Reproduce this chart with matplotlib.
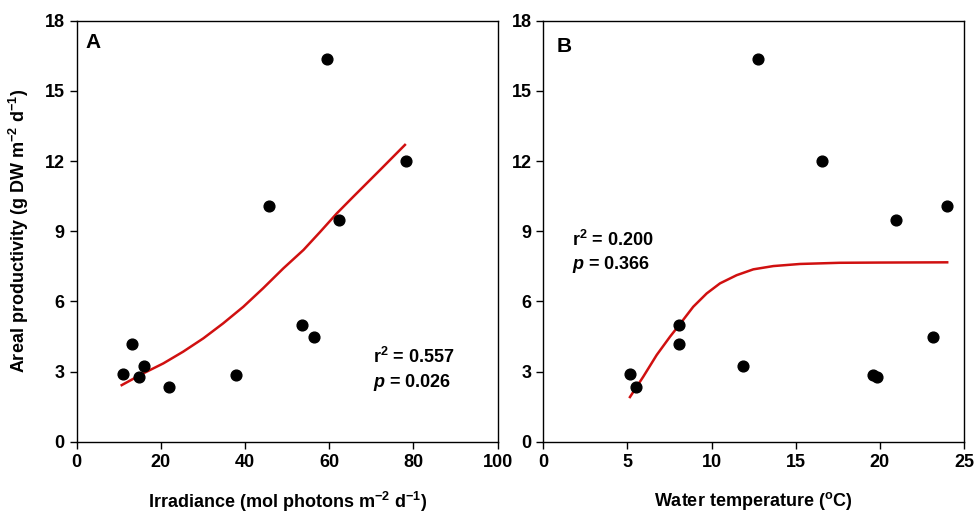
import numpy as np
import matplotlib
matplotlib.use('Agg')
import matplotlib.pyplot as plt

plt.rcParams['font.family'] = ['Liberation Sans', 'DejaVu Sans']
plt.rcParams['font.weight'] = 'bold'
plt.rcParams['axes.labelweight'] = 'bold'
plt.rcParams['mathtext.fontset'] = 'custom'
plt.rcParams['mathtext.rm'] = 'Liberation Sans:bold'
plt.rcParams['mathtext.it'] = 'Liberation Sans:italic:bold'
plt.rcParams['mathtext.bf'] = 'Liberation Sans:bold'

# one value per site
productivity = [2.89, 4.16, 2.76, 3.23, 2.36, 2.87, 10.06, 4.97, 4.47, 16.37, 9.48, 12.01]
irradiance = [10.9, 13.2, 14.7, 16.0, 21.9, 37.9, 45.8, 53.6, 56.4, 59.4, 62.4, 78.2]
temperature = [5.15, 8.06, 19.8, 11.85, 5.5, 19.6, 23.97, 8.04, 23.14, 12.74, 20.94, 16.58]

# fitted curves
fit_irr_x = [10.7, 15.8, 20.6, 25.3, 30.1, 34.8, 39.6, 44.3, 49.1, 53.9, 57.8, 61.8, 65.7, 72.1, 78.0]
fit_irr_y = [2.42, 2.92, 3.35, 3.85, 4.42, 5.06, 5.77, 6.56, 7.41, 8.20, 8.96, 9.76, 10.47, 11.62, 12.69]
fit_temp_x = [5.15, 5.94, 6.74, 7.53, 8.12, 8.91, 9.71, 10.5, 11.49, 12.48, 13.67, 15.26, 17.6, 20.0, 24.0]
fit_temp_y = [1.91, 2.78, 3.71, 4.49, 5.03, 5.77, 6.34, 6.77, 7.12, 7.37, 7.51, 7.60, 7.65, 7.66, 7.67]

stats_a = ('0.557', '0.026')
stats_b = ('0.200', '0.366')

fig = plt.figure(figsize=(9.78, 5.24), dpi=100)
ax_a = fig.add_axes([0.0784, 0.157, 0.4303, 0.8035])
ax_b = fig.add_axes([0.5555, 0.157, 0.4302, 0.8035])

red = '#d01010'


def style(ax, xmax, xstep):
    ax.set_xlim(0, xmax)
    ax.set_ylim(0, 18)
    ax.set_xticks(np.arange(0, xmax + 1, xstep))
    ax.set_yticks(np.arange(0, 19, 3))
    ax.tick_params(direction='out', length=5, width=1, labelsize=13,
                   top=False, right=False)
    for s in ax.spines.values():
        s.set_linewidth(1)


# panel A
ax_a.plot(fit_irr_x, fit_irr_y, color=red, lw=1.8, zorder=2)
ax_a.scatter(irradiance, productivity, s=60, color='black', zorder=3)
style(ax_a, 100, 20)
ax_a.set_xlabel('Irradiance (mol photons m$^{-2}$ d$^{-1}$)', fontsize=13, labelpad=14)
ax_a.set_ylabel('Areal productivity (g DW m$^{-2}$ d$^{-1}$)', fontsize=13, labelpad=10)
ax_a.text(0.022, 0.97, 'A', transform=ax_a.transAxes, fontsize=15, va='top')
ax_a.text(0.705, 0.188, 'r$^{2}$ = ' + stats_a[0], transform=ax_a.transAxes, fontsize=13)
ax_a.text(0.705, 0.131, '$p$ = ' + stats_a[1], transform=ax_a.transAxes, fontsize=13)

# panel B
ax_b.plot(fit_temp_x, fit_temp_y, color=red, lw=1.8, zorder=2)
ax_b.scatter(temperature, productivity, s=60, color='black', zorder=3)
style(ax_b, 25, 5)
ax_b.set_xlabel(r'Water temperature ($^{\mathrm{o}}$C)', fontsize=13, labelpad=14)
ax_b.text(0.032, 0.962, 'B', transform=ax_b.transAxes, fontsize=15, va='top')
ax_b.text(0.0675, 0.465, 'r$^{2}$ = ' + stats_b[0], transform=ax_b.transAxes, fontsize=13)
ax_b.text(0.0675, 0.41, '$p$ = ' + stats_b[1], transform=ax_b.transAxes, fontsize=13)

fig.savefig('out.png', dpi=100)
